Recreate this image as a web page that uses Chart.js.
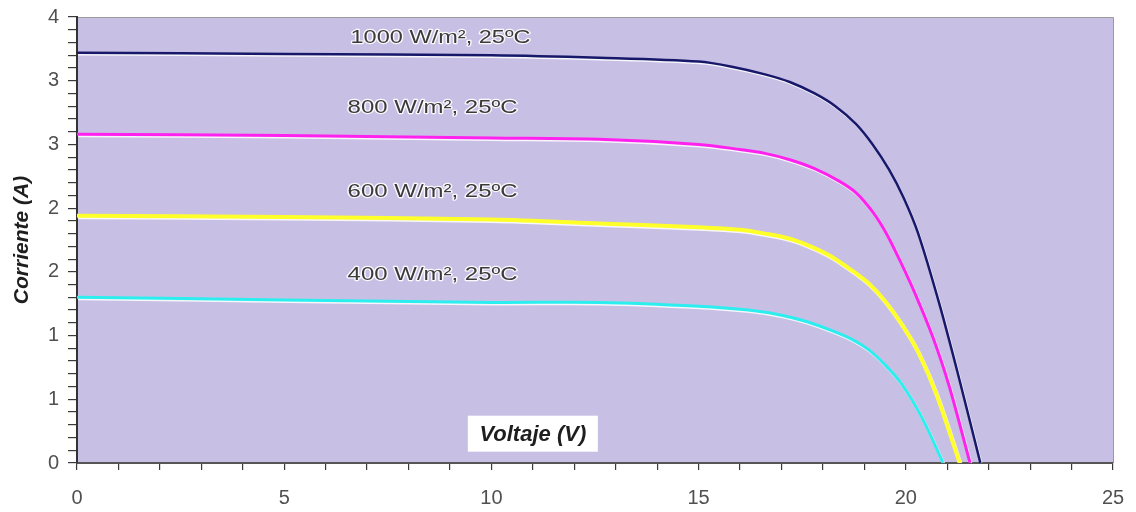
<!DOCTYPE html>
<html>
<head>
<meta charset="utf-8">
<script src="https://cdn.jsdelivr.net/npm/chart.js@4/dist/chart.umd.min.js"></script>
<style>
  html, body { margin: 0; padding: 0; background: #ffffff; }
  #wrap { width: 1136px; height: 512px; position: relative; }
</style>
</head>
<body>
<div id="wrap"><canvas id="c" width="1136" height="512"></canvas></div>
<script>
// ---- Data ----
const v1000 = [0, 5, 10, 12.6, 15.0, 15.8, 16.6, 17.2, 17.8, 18.3, 18.8, 19.2, 19.6, 19.95, 20.3, 20.8, 21.25, 21.8];
const i1000 = [3.22, 3.21, 3.20, 3.18, 3.15, 3.11, 3.05, 2.99, 2.90, 2.80, 2.66, 2.50, 2.30, 2.08, 1.80, 1.26, 0.71, 0];

const v800 = [0, 5, 10, 12.6, 15.0, 16.0, 16.6, 17.2, 17.8, 18.4, 18.8, 19.2, 19.55, 19.9, 20.25, 20.65, 21.05, 21.55];
const i800 = [2.58, 2.57, 2.55, 2.54, 2.50, 2.46, 2.43, 2.38, 2.31, 2.21, 2.12, 1.97, 1.79, 1.56, 1.31, 0.99, 0.60, 0];

const v600 = [0, 5, 10, 12.6, 15.0, 16.0, 16.6, 17.2, 17.7, 18.2, 18.7, 19.1, 19.5, 19.9, 20.3, 20.75, 21.3];
const i600 = [1.94, 1.93, 1.91, 1.88, 1.85, 1.83, 1.80, 1.76, 1.70, 1.62, 1.51, 1.41, 1.27, 1.09, 0.87, 0.53, 0];

const v400 = [0, 5, 10, 12.6, 15.0, 16.2, 17.0, 17.6, 18.2, 18.7, 19.1, 19.5, 19.9, 20.4, 20.9];
const i400 = [1.30, 1.28, 1.26, 1.26, 1.23, 1.20, 1.16, 1.11, 1.04, 0.97, 0.89, 0.77, 0.62, 0.35, 0];

const seriesLabels = ['1000 W/m², 25ºC', '800 W/m², 25ºC', '600 W/m², 25ºC', '400 W/m², 25ºC'];
const xTickLabels = ['0', '5', '10', '15', '20', '25'];
const yTickLabels = ['0', '1', '1', '2', '2', '3', '3', '4'];
const xTitle = 'Voltaje (V)';
const yTitle = 'Corriente (A)';

function pts(xs, ys) { return xs.map((x, k) => ({ x: x, y: ys[k] })); }

// ---- Plugins ----
const plotBg = {
  id: 'plotBg',
  beforeDraw(chart) {
    const { ctx, chartArea: a } = chart;
    ctx.save();
    ctx.fillStyle = '#c8bfe4';
    ctx.fillRect(a.left, a.top, a.right - a.left, a.bottom - a.top);
    ctx.strokeStyle = '#9a9a9a';
    ctx.lineWidth = 1;
    ctx.beginPath();
    ctx.moveTo(a.left, a.top + 0.5);
    ctx.lineTo(a.right + 0.5, a.top + 0.5);
    ctx.lineTo(a.right + 0.5, a.bottom);
    ctx.stroke();
    ctx.restore();
  }
};

const lineHalo = {
  id: 'lineHalo',
  beforeDatasetDraw(chart) {
    const ctx = chart.ctx;
    ctx.save();
    ctx.shadowColor = 'rgba(255,255,255,0.85)';
    ctx.shadowOffsetX = 1;
    ctx.shadowOffsetY = 1.5;
    ctx.shadowBlur = 0;
  },
  afterDatasetDraw(chart) {
    chart.ctx.restore();
  }
};

const annotations = {
  id: 'annotations',
  afterDatasetsDraw(chart) {
    const { ctx, scales: { x, y } } = chart;
    const anchors = [[6.6, 3.34], [6.53, 2.79], [6.53, 2.13], [6.53, 1.48]];
    ctx.save();
    ctx.font = '18px "Liberation Sans", Arial, sans-serif';
    ctx.textBaseline = 'middle';
    ctx.textAlign = 'left';
    seriesLabels.forEach((t, k) => {
      const px = x.getPixelForValue(anchors[k][0]);
      const py = y.getPixelForValue(anchors[k][1]);
      const w = ctx.measureText(t).width;
      const target = k === 0 ? 180 : 170;
      ctx.save();
      ctx.translate(px, py);
      ctx.scale(target / w, 1.05);
      ctx.lineJoin = 'round';
      ctx.strokeStyle = 'rgba(255,255,255,0.9)';
      ctx.lineWidth = 2.2;
      ctx.strokeText(t, 0, 0);
      ctx.fillStyle = '#3a3a3a';
      ctx.fillText(t, 0, 0);
      ctx.restore();
    });

    // x-axis title box inside the plot
    const cx = x.getPixelForValue(11.0);
    const cy = y.getPixelForValue(0.23);
    ctx.fillStyle = '#ffffff';
    ctx.fillRect(cx - 65, cy - 18, 130, 36);
    ctx.font = 'italic bold 22px "Liberation Sans", Arial, sans-serif';
    ctx.textAlign = 'center';
    ctx.fillStyle = '#1e1e1e';
    ctx.fillText(xTitle, cx, cy + 1);
    ctx.restore();
  }
};

// ---- Chart ----
const ctx = document.getElementById('c').getContext('2d');
new Chart(ctx, {
  type: 'scatter',
  data: {
    datasets: [
      { label: seriesLabels[0], data: pts(v1000, i1000), borderColor: '#17186a', borderWidth: 2.5 },
      { label: seriesLabels[1], data: pts(v800, i800), borderColor: '#ff22ee', borderWidth: 3 },
      { label: seriesLabels[2], data: pts(v600, i600), borderColor: '#ffff2a', borderWidth: 4 },
      { label: seriesLabels[3], data: pts(v400, i400), borderColor: '#2ceeee', borderWidth: 3 }
    ].map(d => Object.assign(d, {
      showLine: true, pointRadius: 0, pointHoverRadius: 0, fill: false,
      tension: 0.3
    }))
  },
  options: {
    responsive: false,
    animation: false,
    layout: { padding: { top: 17, right: 23, left: 0, bottom: 0 } },
    plugins: {
      legend: { display: false },
      tooltip: { enabled: false }
    },
    scales: {
      x: {
        type: 'linear',
        min: 0, max: 25,
        afterFit(s) { s.height = 49; s.paddingLeft = 0; s.paddingRight = 0; },
        ticks: {
          stepSize: 1, autoSkip: false, maxTicksLimit: 100, maxRotation: 0,
          padding: 16,
          color: '#505050',
          font: { family: '"Liberation Sans", Arial, sans-serif', size: 20 },
          callback: (v) => (Math.abs(v % 5) < 1e-9 ? xTickLabels[Math.round(v / 5)] : '')
        },
        grid: { drawOnChartArea: false, drawTicks: true, tickLength: 7, color: '#3a3a3a', lineWidth: 1.2 },
        border: { display: true, color: '#555555', width: 2 }
      },
      y: {
        type: 'linear',
        min: 0, max: 3.5,
        afterFit(s) { s.width = 77; s.paddingTop = 0; s.paddingBottom = 0; },
        ticks: {
          stepSize: 0.1, autoSkip: false, maxTicksLimit: 100,
          padding: 9,
          color: '#505050',
          font: { family: '"Liberation Sans", Arial, sans-serif', size: 20 },
          callback: (v) => {
            const k = Math.round(v * 10);
            return k % 5 === 0 ? yTickLabels[k / 5] : '';
          }
        },
        grid: { drawOnChartArea: false, drawTicks: true, tickLength: 9, color: '#3a3a3a', lineWidth: 1.2 },
        border: { display: true, color: '#333333', width: 2 },
        title: {
          display: true, text: yTitle, color: '#1e1e1e',
          padding: { top: 10, bottom: 0 },
          font: { family: '"Liberation Sans", Arial, sans-serif', size: 21, weight: 'bold', style: 'italic' }
        }
      }
    }
  },
  plugins: [plotBg, lineHalo, annotations]
});
</script>
</body>
</html>
